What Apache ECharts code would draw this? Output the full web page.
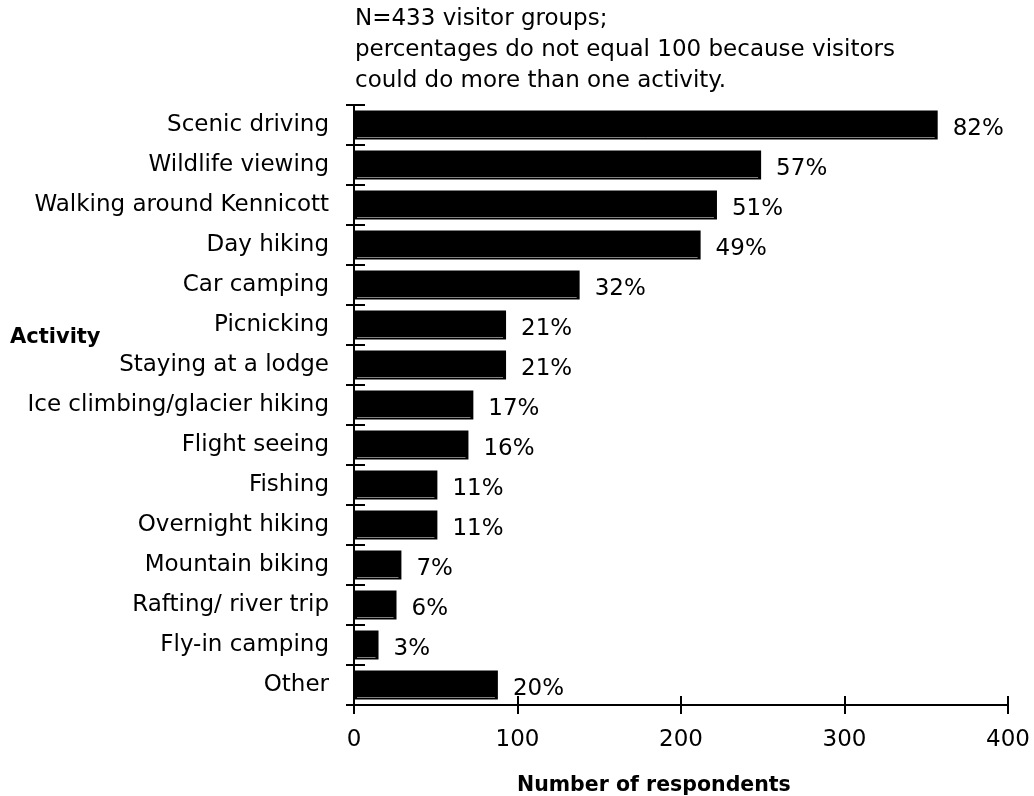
<!DOCTYPE html>
<html><head><meta charset="utf-8">
<script src="https://cdn.jsdelivr.net/npm/echarts@6/dist/echarts.min.js"></script>
<style>html,body{margin:0;padding:0;background:#fff}#c{width:1034px;height:796px}</style>
</head><body><div id="c"></div>
<script>
const categories = ["Scenic driving","Wildlife viewing","Walking around Kennicott","Day hiking","Car camping","Picnicking","Staying at a lodge","Ice climbing/glacier hiking","Flight seeing","Fishing","Overnight hiking","Mountain biking","Rafting/ river trip","Fly-in camping","Other"];
const respondents = [357, 249, 222, 212, 138, 93, 93, 73, 70, 51, 51, 29, 26, 15, 88];
const percents = ["82%","57%","51%","49%","32%","21%","21%","17%","16%","11%","11%","7%","6%","3%","20%"];
const xTicks = [0, 100, 200, 300, 400];

const font = "DejaVu Sans";
const BAR_W = 29;
const chart = echarts.init(document.getElementById('c'));
chart.setOption({
  animation: false,
  grid: {left: 354, right: 26, top: 105, bottom: 91, containLabel: false, outerBoundsMode: 'none'},
  xAxis: [{
    type: 'value', min: xTicks[0], max: xTicks[xTicks.length-1], interval: 100,
    axisLine: {show: true, lineStyle: {color: '#000', width: 2}},
    axisTick: {show: true, length: 9, lineStyle: {color: '#000', width: 2}},
    axisLabel: {color: '#000', fontFamily: font, fontSize: 23, margin: 24},
    splitLine: {show: false}
  }, {
    type: 'value', position: 'bottom', min: 0, max: 400, interval: 100,
    axisLine: {show: false},
    axisTick: {show: true, inside: true, length: 9, lineStyle: {color: '#000', width: 2}},
    axisLabel: {show: false}, splitLine: {show: false}
  }],
  yAxis: [{
    type: 'category', data: categories, inverse: true,
    axisLine: {show: true, lineStyle: {color: '#000', width: 2}},
    axisTick: {show: true, length: 8, lineStyle: {color: '#000', width: 2}},
    axisLabel: {color: '#000', fontFamily: font, fontSize: 23, margin: 25, padding: [6, 0, 0, 0]}
  }, {
    type: 'category', data: categories, inverse: true, position: 'left',
    axisLine: {show: false},
    axisTick: {show: true, inside: true, length: 11, lineStyle: {color: '#000', width: 2}},
    axisLabel: {show: false}
  }],
  series: [{
    type: 'bar', data: respondents, xAxisIndex: 0, yAxisIndex: 0,
    barWidth: BAR_W,
    itemStyle: {color: '#000'},
    label: {
      show: true, position: 'right', distance: 15, offset: [0, 4],
      color: '#000', fontFamily: font, fontSize: 23,
      formatter: p => percents[p.dataIndex]
    }
  }, {
    type: 'custom', xAxisIndex: 0, yAxisIndex: 0, silent: true, z: 5,
    data: respondents.map((v, i) => [v, i]),
    renderItem: function (params, api) {
      const end = api.coord([api.value(0), api.value(1)]);
      const start = api.coord([0, api.value(1)]);
      const y = Math.round(end[1] + BAR_W / 2) - 2.5;
      return {
        type: 'line',
        shape: {x1: start[0] + 3, y1: y, x2: end[0] - 3, y2: y},
        style: {stroke: '#808080', lineWidth: 1}
      };
    }
  }],
  graphic: [
    {type: 'text', left: 10, top: 327, style: {text: 'Activity', fontFamily: font, fontSize: 21, fontWeight: 'bold', fill: '#000'}},
    {type: 'text', left: 355, top: 4, style: {text: 'N=433 visitor groups;\npercentages do not equal 100 because visitors\ncould do more than one activity.', fontFamily: font, fontSize: 23, lineHeight: 31, fill: '#000'}},
    {type: 'text', left: 517, top: 775, style: {text: 'Number of respondents', fontFamily: font, fontSize: 20.5, fontWeight: 'bold', fill: '#000'}}
  ]
});
</script></body></html>
